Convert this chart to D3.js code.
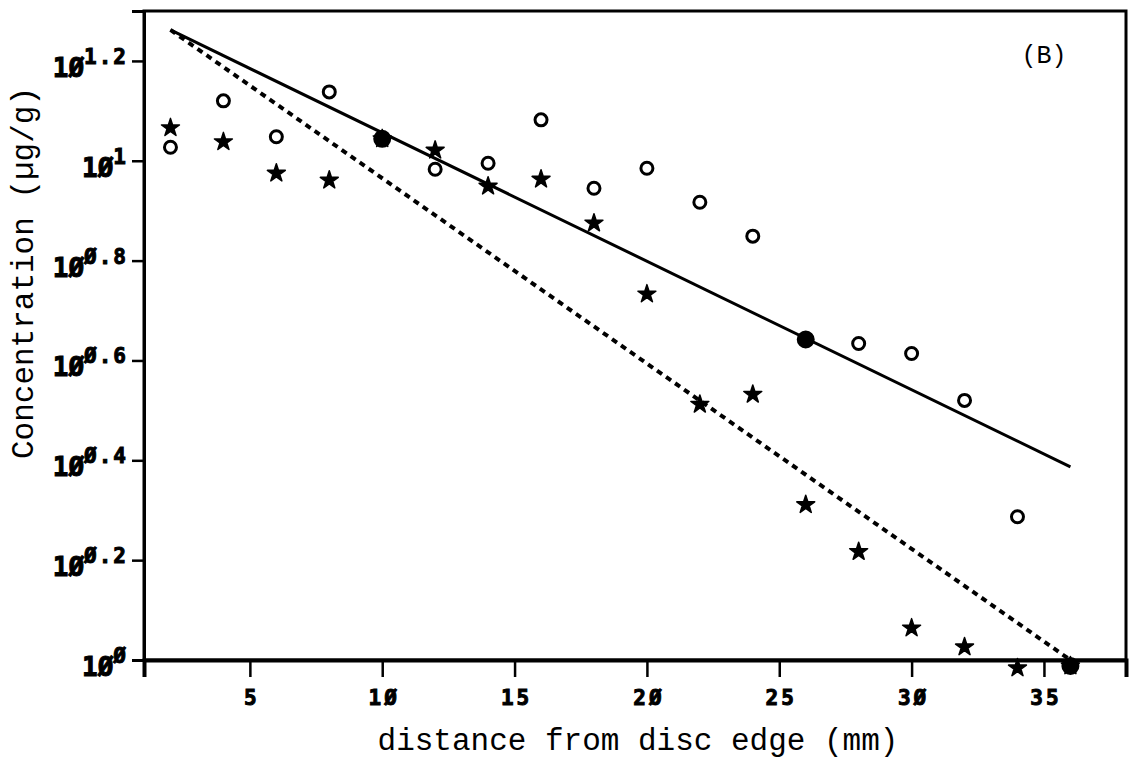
<!DOCTYPE html>
<html>
<head>
<meta charset="utf-8">
<script src="https://cdn.jsdelivr.net/npm/d3@7"></script>
<style>
  body { margin: 0; background: #fff; }
  svg { display: block; }
  .lbl { font-family: "DejaVu Sans Mono", monospace; font-weight: bold; fill: #000; stroke: #000; stroke-width: 1; }
  .title { font-family: "Liberation Mono", "Courier New", Courier, monospace; fill: #000; }
</style>
</head>
<body>
<svg id="chart"></svg>
<script>
// distance from disc edge (mm)
const distances = [2, 4, 6, 8, 10, 12, 14, 16, 18, 20, 22, 24, 26, 28, 30, 32, 34, 36];
// log10 of concentration (ug/g), open circles
const circleLog = [1.027, 1.12, 1.048, 1.138, 1.044, 0.983, 0.995, 1.082, 0.945, 0.985,
                   0.917, 0.849, 0.642, 0.634, 0.614, 0.52, 0.287, -0.012];
// log10 of concentration (ug/g), stars
const starLog = [1.066, 1.038, 0.975, 0.961, 1.044, 1.021, 0.949, 0.963, 0.875, 0.733,
                 0.512, 0.532, 0.311, 0.217, 0.064, 0.026, -0.016, -0.012];
// circles drawn solid
const solidCircles = [10, 26, 36];
// fitted lines, [distance, log10 conc]
const fitCircles = [[2, 1.262], [36, 0.387]];
const fitStars = [[2, 1.262], [36, 0.0]];

const xTicks = [5, 10, 15, 20, 25, 30, 35];
const yTickExps = [0, 0.2, 0.4, 0.6, 0.8, 1, 1.2];

const W = 1129, H = 762;
const plot = { left: 144, right: 1126, top: 11, bottom: 660 };

const svg = d3.select("#chart").attr("width", W).attr("height", H);

const x = d3.scaleLinear().domain([1, 38.1]).range([plot.left, plot.right]);
const y = d3.scaleLog().domain([1, Math.pow(10, 1.3)]).range([plot.bottom, plot.top]);
const yl = v => y(Math.pow(10, v));

const zero = s => s.replace(/0/g, "Ø");

// frame
svg.append("rect")
  .attr("x", plot.left).attr("y", plot.top)
  .attr("width", plot.right - plot.left).attr("height", plot.bottom - plot.top)
  .attr("fill", "none").attr("stroke", "#000").attr("stroke-width", 3);

// x axis
const gx = svg.append("g")
  .attr("transform", "translate(0," + plot.bottom + ")")
  .call(d3.axisBottom(x).tickValues(xTicks).tickSize(17).tickPadding(13)
    .tickFormat(d => zero(String(d))));
gx.select(".domain").attr("stroke-width", 4);
gx.selectAll(".tick line").attr("stroke-width", 2.5);
gx.selectAll(".tick text")
  .attr("class", "lbl")
  .attr("font-size", 21)
  .attr("letter-spacing", 3)
  .attr("dx", 1.5);

// y axis, labels as 10 to a power
const gy = svg.append("g")
  .attr("transform", "translate(" + plot.left + ",0)")
  .call(d3.axisLeft(y).tickValues(yTickExps.map(e => Math.pow(10, e))).tickSize(12).tickFormat(""));
gy.select(".domain").attr("stroke-width", 3);
gy.selectAll(".tick line").attr("stroke-width", 2.5);

const yLabels = svg.append("g")
  .attr("class", "lbl")
  .attr("text-anchor", "end");
yTickExps.forEach(e => {
  const t = yLabels.append("text")
    .attr("x", 128)
    .attr("y", yl(e) + 16);
  t.append("tspan").attr("font-size", 26).text("1Ø");
  t.append("tspan").attr("font-size", 21).attr("letter-spacing", 2).attr("dy", -13)
    .text(zero(String(e)));
});

// fitted lines
const line = d3.line().x(d => x(d[0])).y(d => yl(d[1]));
svg.append("path")
  .attr("d", line(fitCircles))
  .attr("fill", "none").attr("stroke", "#000").attr("stroke-width", 3);
svg.append("path")
  .attr("d", line(fitStars))
  .attr("fill", "none").attr("stroke", "#000").attr("stroke-width", 4)
  .attr("stroke-dasharray", "6 5");

// star markers
svg.append("g").selectAll("path")
  .data(distances.map((d, i) => [d, starLog[i]]))
  .join("path")
  .attr("transform", d => "translate(" + x(d[0]) + "," + yl(d[1]) + ")")
  .attr("d", d3.symbol(d3.symbolStar, 100))
  .attr("fill", "#000")
  .attr("stroke", "#000")
  .attr("stroke-width", 1.5)
  .attr("stroke-linejoin", "round");

// circle markers
svg.append("g").selectAll("circle")
  .data(distances.map((d, i) => [d, circleLog[i]]))
  .join("circle")
  .attr("cx", d => x(d[0]))
  .attr("cy", d => yl(d[1]))
  .attr("r", d => solidCircles.includes(d[0]) ? 7.5 : 6)
  .attr("fill", d => solidCircles.includes(d[0]) ? "#000" : "#fff")
  .attr("stroke", "#000")
  .attr("stroke-width", 3);

// panel tag
svg.append("text")
  .attr("class", "title")
  .attr("x", 1044).attr("y", 63)
  .attr("text-anchor", "middle")
  .attr("font-size", 25)
  .text("(B)");

// axis titles
svg.append("text")
  .attr("class", "title")
  .attr("x", 638).attr("y", 750)
  .attr("text-anchor", "middle")
  .attr("font-size", 31)
  .text("distance from disc edge (mm)");

svg.append("text")
  .attr("class", "title")
  .attr("transform", "translate(33,273) rotate(-90)")
  .attr("text-anchor", "middle")
  .attr("font-size", 31)
  .text("Concentration (µg/g)");
</script>
</body>
</html>
